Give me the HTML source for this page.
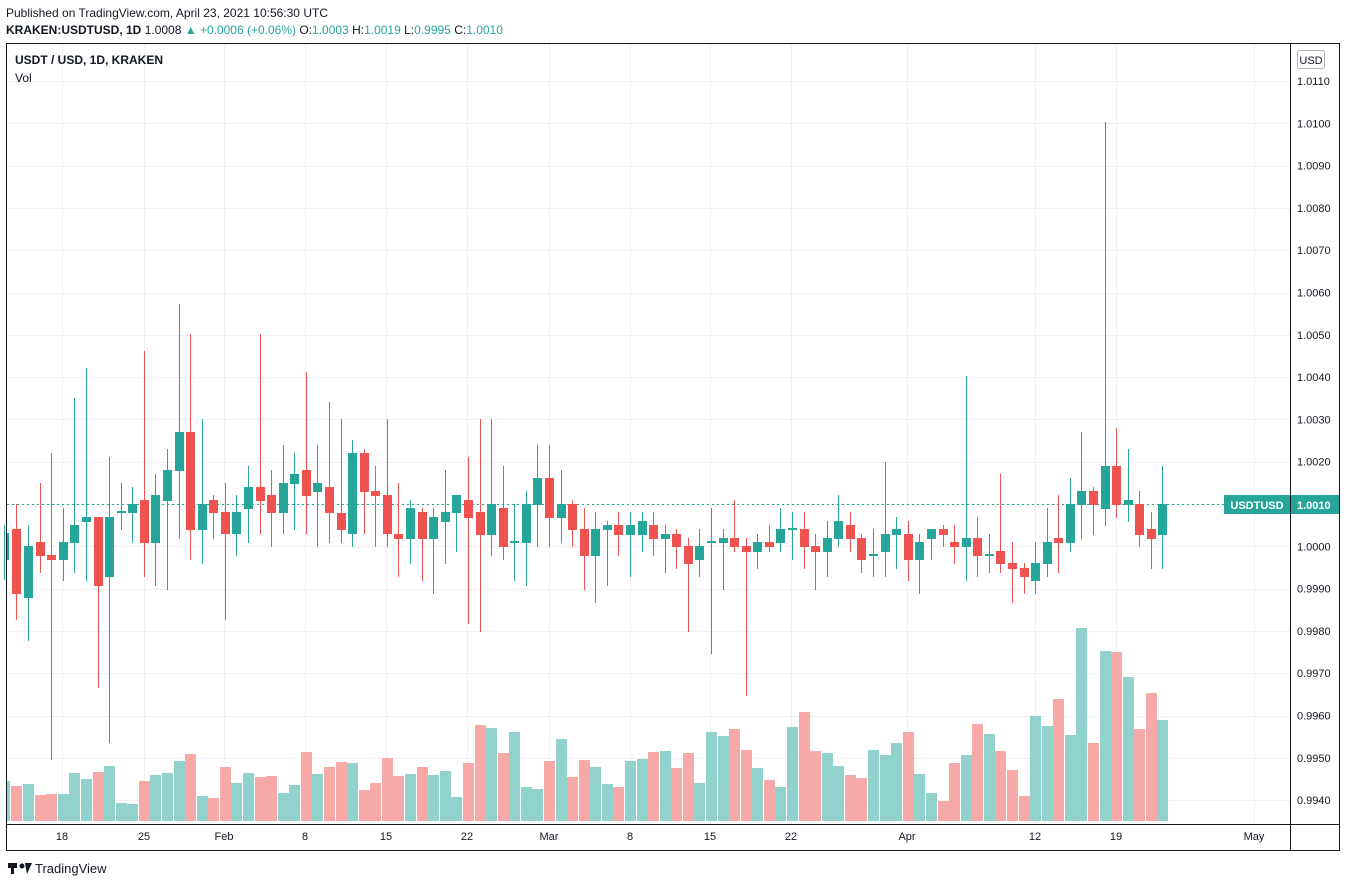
<!DOCTYPE html>
<html><head><meta charset="utf-8"><style>
body{margin:0;background:#fff;width:1347px;height:887px;overflow:hidden;font-family:"Liberation Sans",sans-serif;}
svg{position:absolute;left:0;top:0}
</style></head><body>
<svg width="1347" height="887" viewBox="0 0 1347 887" xmlns="http://www.w3.org/2000/svg" font-family="Liberation Sans, sans-serif">
<rect width="1347" height="887" fill="#fff"/>
<text x="6" y="17" font-size="12" fill="#131722">Published on TradingView.com, April 23, 2021 10:56:30 UTC</text>
<text x="6" y="34" font-size="12" font-weight="bold" fill="#131722">KRAKEN:USDTUSD, 1D <tspan font-weight="normal">1.0008</tspan> <tspan fill="#26a69a" font-weight="normal">▲ +0.0006 (+0.06%)</tspan> <tspan font-weight="normal">O:</tspan><tspan fill="#26a69a" font-weight="normal">1.0003</tspan> <tspan font-weight="normal">H:</tspan><tspan fill="#26a69a" font-weight="normal">1.0019</tspan> <tspan font-weight="normal">L:</tspan><tspan fill="#26a69a" font-weight="normal">0.9995</tspan> <tspan font-weight="normal">C:</tspan><tspan fill="#26a69a" font-weight="normal">1.0010</tspan></text>
<rect x="6.5" y="43.5" width="1333" height="807" fill="none" stroke="#131722" stroke-width="1"/>
<line x1="1290.5" y1="44" x2="1290.5" y2="851" stroke="#131722"/>
<line x1="7" y1="824.5" x2="1340" y2="824.5" stroke="#131722"/>
<g id="grid" stroke="#f0f0f3" stroke-width="1"></g>
<g id="vol"></g>
<line x1="7" y1="504.5" x2="1290" y2="504.5" stroke="#26a69a" stroke-dasharray="2,3"/>
<g id="cdl" shape-rendering="crispEdges"></g>
<text x="15" y="64" font-size="12" font-weight="bold" fill="#131722">USDT / USD, 1D, KRAKEN</text>
<text x="15" y="82" font-size="12" fill="#131722">Vol</text>
<rect x="1297.5" y="50.5" width="27" height="18" rx="2" fill="#fff" stroke="#b2b5be"/>
<text x="1311" y="64" font-size="11" fill="#131722" text-anchor="middle">USD</text>
<g id="plab" font-size="11" fill="#131722"></g>
<rect x="1224" y="495" width="66" height="19" fill="#26a69a"/>
<text x="1257" y="509" font-size="11" font-weight="bold" fill="#fff" text-anchor="middle">USDTUSD</text>
<rect x="1291" y="495" width="48" height="19" fill="#26a69a"/>
<text x="1297" y="509" font-size="11" font-weight="bold" fill="#fff">1.0010</text>
<g font-size="11" fill="#131722" text-anchor="middle">
<text x="62" y="840">18</text><text x="144" y="840">25</text><text x="224" y="840">Feb</text><text x="305" y="840">8</text><text x="386" y="840">15</text><text x="467" y="840">22</text><text x="549" y="840">Mar</text><text x="630" y="840">8</text><text x="710" y="840">15</text><text x="791" y="840">22</text><text x="907" y="840">Apr</text><text x="1035" y="840">12</text><text x="1116" y="840">19</text><text x="1254" y="840">May</text>
</g>
<g transform="translate(8,861)"><rect x="0" y="2" width="9" height="5" fill="#131722"/><rect x="3" y="2" width="3" height="11" fill="#131722"/><circle cx="14" cy="5" r="2.5" fill="#131722"/><path d="M17 2 L24 2 L19 13 Z" fill="#131722"/></g>
<text x="35" y="873" font-size="13" fill="#131722">TradingView</text>
</svg>
<script>
var ns="http://www.w3.org/2000/svg";
function el(p,t,a){var e=document.createElementNS(ns,t);for(var k in a)e.setAttribute(k,a[k]);p.appendChild(e);return e;}
var grid=document.getElementById('grid'),plab=document.getElementById('plab');
var labs=["1.0110","1.0100","1.0090","1.0080","1.0070","1.0060","1.0050","1.0040","1.0030","1.0020","1.0010","1.0000","0.9990","0.9980","0.9970","0.9960","0.9950","0.9940"];
for(var i=0;i<labs.length;i++){var y=81+i*42.3;el(grid,'line',{x1:7,x2:1290,y1:Math.round(y)+.5,y2:Math.round(y)+.5});
if(labs[i]!="1.0010"){var t=el(plab,'text',{x:1297,y:y+4});t.textContent=labs[i];}}
[62,144,224,305,386,467,549,630,710,791,907,1035,1116,1254].forEach(function(x){el(grid,'line',{x1:x+.5,x2:x+.5,y1:44,y2:824});});
var D=[
[4,'g',533,560,525,580,781],[16,'r',529,594,504,620,786],[28,'g',546,598,525,641,784],[40,'r',542,556,483,573,795],[51,'r',555,560,453,760,794],[63,'g',542,560,508,581,794],[74,'g',525,543,398,573,773],[86,'g',517,522,368,581,779],[98,'r',517,586,517,688,772],[109,'g',517,577,457,743,766],[121,'g',511,513,483,530,803],[132,'g',504,513,487,543,804],[144,'r',500,543,351,577,781],[155,'g',495,543,474,586,775],[167,'g',470,501,449,590,773],[179,'g',432,471,304,539,761],[190,'r',432,530,334,560,754],
[202,'g',504,530,419,564,796],[213,'r',500,513,495,539,798],[225,'r',512,534,483,620,767],[236,'g',512,534,495,556,783],[248,'g',487,509,466,543,773],[260,'r',487,501,334,534,777],[271,'r',495,513,470,547,776],[283,'g',483,513,445,534,793],[294,'g',474,484,453,530,785],[306,'r',470,496,372,534,752],[317,'g',483,492,445,547,774],[329,'r',487,513,402,543,767],[341,'r',513,530,419,543,762],[352,'g',453,534,440,547,763],[364,'r',453,492,449,534,790],[375,'r',491,496,466,547,783],[387,'r',495,534,419,547,758],
[398,'r',534,539,483,577,776],[410,'g',508,539,500,564,774],[422,'r',512,539,508,581,767],[433,'g',517,539,508,594,775],[445,'g',512,522,470,564,771],[456,'g',495,513,495,552,797],[468,'r',500,518,457,624,763],[480,'r',512,535,419,632,725],[491,'g',504,535,419,556,728],[503,'r',508,547,466,560,753],[514,'g',541,543,504,581,732],[526,'g',504,543,491,586,787],[537,'g',478,505,445,547,789],[549,'r',478,518,445,547,761],[561,'g',504,518,470,543,739],[572,'r',504,530,500,547,777],[584,'r',529,556,508,590,760],
[595,'g',529,556,512,603,767],[607,'g',525,530,521,586,784],[618,'r',525,535,512,556,787],[630,'g',525,535,512,577,761],[642,'g',521,535,512,552,759],[653,'r',525,539,512,556,752],[665,'g',534,539,525,573,751],[676,'r',534,547,529,569,768],[688,'r',546,564,538,632,753],[699,'g',546,560,529,577,783],[711,'g',541,543,508,654,732],[723,'g',538,543,529,590,736],[734,'r',538,547,500,552,729],[746,'r',546,552,538,696,750],[757,'g',542,552,534,569,768],[769,'r',542,547,525,552,780],[780,'g',529,543,508,552,787],
[792,'g',528,530,512,560,727],[804,'r',529,547,512,569,712],[815,'r',546,552,534,590,751],[827,'g',538,552,521,577,753],[838,'g',521,539,495,547,766],[850,'r',525,539,512,552,775],[861,'r',538,560,534,573,778],[873,'g',554,556,529,577,750],[885,'g',534,552,462,577,755],[896,'g',529,535,517,569,743],[908,'r',534,560,521,581,732],[919,'g',542,560,534,594,774],[931,'g',529,539,529,560,793],[943,'r',529,535,525,547,801],[954,'r',542,547,525,564,763],[966,'g',538,547,376,581,755],[977,'r',538,556,517,577,724],
[989,'g',554,556,534,573,734],[1000,'r',551,564,474,573,751],[1012,'r',563,569,542,603,770],[1024,'r',568,577,563,594,796],[1035,'g',563,581,542,594,716],[1047,'g',542,564,508,577,726],[1058,'r',538,543,495,573,699],[1070,'g',504,543,478,552,735],[1081,'g',491,505,432,539,628],[1093,'r',491,505,487,535,743],[1105,'g',466,509,122,526,651],[1116,'r',466,505,428,518,652],[1128,'g',500,505,449,522,677],[1139,'r',504,535,491,547,729],[1151,'r',529,539,512,569,693],[1162,'g',504,535,466,569,720]];
var vg=document.getElementById('vol'),cg=document.getElementById('cdl');
D.forEach(function(d){var x=Math.round(d[0]),c=d[1]=='g'?'#26a69a':'#ef5350',vc=d[1]=='g'?'#92d2cc':'#f7a9a7';
var vx=Math.max(7,x-5);el(vg,'rect',{x:vx,y:d[6],width:x+6-vx,height:821-d[6],fill:vc});
el(cg,'rect',{x:x,y:d[4],width:1,height:d[5]-d[4],fill:c});
var bx=Math.max(7,x-4);el(cg,'rect',{x:bx,y:d[2],width:x+5-bx,height:Math.max(1,d[3]-d[2]),fill:c});});
</script>
</body></html>
